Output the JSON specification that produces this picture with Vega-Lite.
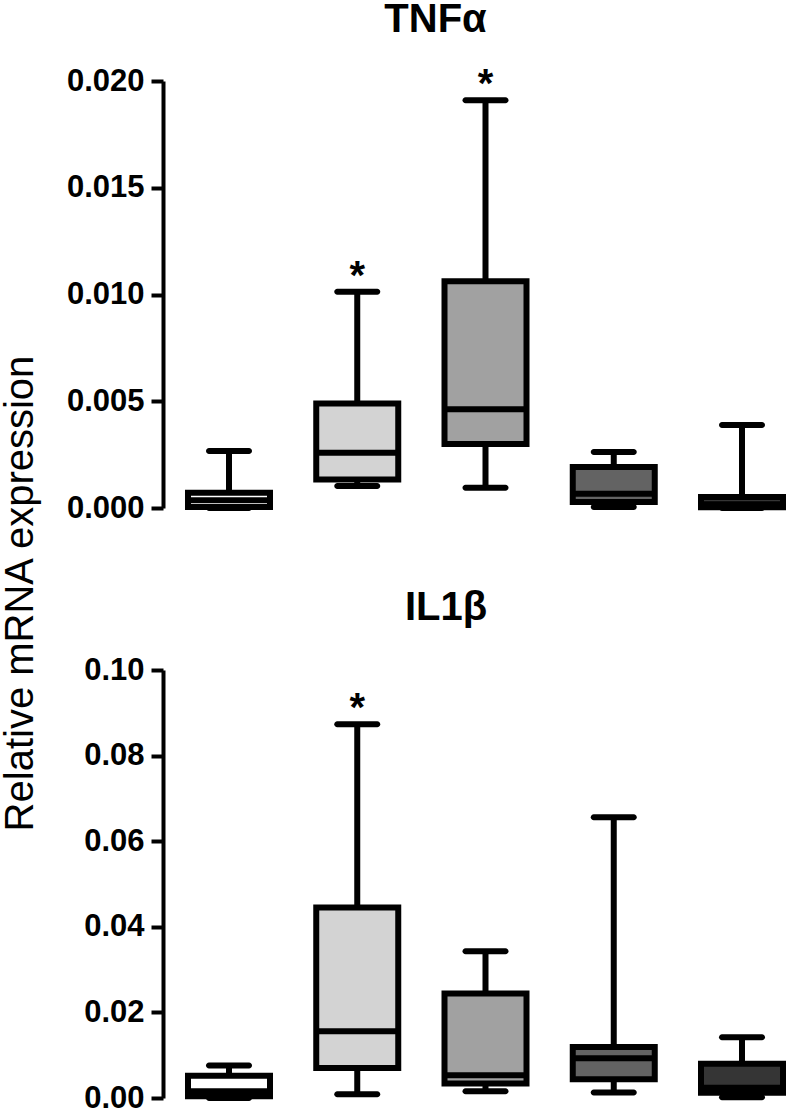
{
  "$schema": "https://vega.github.io/schema/vega-lite/v6.json",
  "background": "white",
  "padding": 0,
  "bounds": "flush",
  "spacing": 162,
  "config": {
    "view": {"stroke": null},
    "font": "Liberation Sans",
    "axis": {
      "domainColor": "black",
      "domainWidth": 4,
      "tickColor": "black",
      "tickWidth": 4,
      "tickSize": 12,
      "labelFont": "Liberation Sans",
      "labelFontSize": 31,
      "labelFontWeight": "bold",
      "labelColor": "black",
      "labelPadding": 7,
      "grid": false
    },
    "title": {"font": "Liberation Sans", "fontSize": 40, "fontWeight": "bold", "color": "black", "anchor": "middle"}
  },
  "datasets": {
    "tnf": [
      {"group": "A", "lower": 0.0, "q1": 0.00005, "median": 0.00036, "q3": 0.00072, "upper": 0.00267, "sig": ""},
      {"group": "B", "lower": 0.00103, "q1": 0.00133, "median": 0.00259, "q3": 0.0049, "upper": 0.01013, "sig": "*"},
      {"group": "C", "lower": 0.00095, "q1": 0.0030, "median": 0.00462, "q3": 0.01062, "upper": 0.0191, "sig": "*"},
      {"group": "D", "lower": 0.00005, "q1": 0.00028, "median": 0.00067, "q3": 0.00192, "upper": 0.00262, "sig": ""},
      {"group": "E", "lower": 0.0, "q1": 0.00003, "median": 0.00017, "q3": 0.00052, "upper": 0.00389, "sig": ""}
    ],
    "il1": [
      {"group": "A", "lower": 0.0, "q1": 0.0004, "median": 0.0016, "q3": 0.0052, "upper": 0.0076, "sig": ""},
      {"group": "B", "lower": 0.0009, "q1": 0.0070, "median": 0.0156, "q3": 0.0445, "upper": 0.0873, "sig": "*"},
      {"group": "C", "lower": 0.0016, "q1": 0.0034, "median": 0.0053, "q3": 0.0244, "upper": 0.0343, "sig": ""},
      {"group": "D", "lower": 0.0013, "q1": 0.0044, "median": 0.0093, "q3": 0.0119, "upper": 0.0656, "sig": ""},
      {"group": "E", "lower": 0.0002, "q1": 0.0012, "median": 0.0024, "q3": 0.0080, "upper": 0.0142, "sig": ""}
    ]
  },
  "vconcat": [
    {
      "width": 645,
      "height": 427,
      "data": {"name": "tnf"},
      "title": {"text": "TNFα", "dx": -50, "offset": -7, "baseline": "alphabetic"},
      "encoding": {
        "x": {"field": "group", "type": "nominal", "scale": {"type": "point", "padding": 0.5146}, "axis": null}
      },
      "layer": [
        {
          "mark": {"type": "rule", "color": "black", "strokeWidth": 6},
          "encoding": {
            "y": {"field": "lower", "type": "quantitative", "scale": {"domain": [0, 0.02], "nice": false},
              "axis": {"values": [0, 0.005, 0.01, 0.015, 0.02], "format": ".3f", "title": "Relative mRNA expression",
                "titleFont": "Liberation Sans", "titleFontSize": 40, "titleFontWeight": "normal", "titleColor": "black",
                "titleAngle": -90, "titleX": -131, "titleY": 512, "titleAlign": "center", "titleBaseline": "alphabetic"}},
            "y2": {"field": "upper"}
          }
        },
        {
          "mark": {"type": "bar", "width": 82, "stroke": "black", "strokeWidth": 6},
          "encoding": {
            "y": {"field": "q1", "type": "quantitative",
              "axis": {"values": [0, 0.005, 0.01, 0.015, 0.02], "format": ".3f", "title": "Relative mRNA expression",
                "titleFont": "Liberation Sans", "titleFontSize": 40, "titleFontWeight": "normal", "titleColor": "black",
                "titleAngle": -90, "titleX": -131, "titleY": 512, "titleAlign": "center", "titleBaseline": "alphabetic"}},
            "y2": {"field": "q3"},
            "fill": {"field": "group", "type": "nominal", "scale": {"domain": ["A", "B", "C", "D", "E"], "range": ["#ffffff", "#d3d3d3", "#a1a1a1", "#636363", "#353535"]}, "legend": null}
          }
        },
        {
          "mark": {"type": "tick", "color": "black", "size": 82, "thickness": 6, "opacity": 1},
          "encoding": {"y": {"field": "median", "type": "quantitative",
              "axis": {"values": [0, 0.005, 0.01, 0.015, 0.02], "format": ".3f", "title": "Relative mRNA expression",
                "titleFont": "Liberation Sans", "titleFontSize": 40, "titleFontWeight": "normal", "titleColor": "black",
                "titleAngle": -90, "titleX": -131, "titleY": 512, "titleAlign": "center", "titleBaseline": "alphabetic"}}}
        },
        {
          "mark": {"type": "tick", "color": "black", "size": 46, "thickness": 6, "cornerRadius": 3, "opacity": 1},
          "encoding": {"y": {"field": "upper", "type": "quantitative",
              "axis": {"values": [0, 0.005, 0.01, 0.015, 0.02], "format": ".3f", "title": "Relative mRNA expression",
                "titleFont": "Liberation Sans", "titleFontSize": 40, "titleFontWeight": "normal", "titleColor": "black",
                "titleAngle": -90, "titleX": -131, "titleY": 512, "titleAlign": "center", "titleBaseline": "alphabetic"}}}
        },
        {
          "mark": {"type": "tick", "color": "black", "size": 46, "thickness": 6, "cornerRadius": 3, "opacity": 1},
          "encoding": {"y": {"field": "lower", "type": "quantitative",
              "axis": {"values": [0, 0.005, 0.01, 0.015, 0.02], "format": ".3f", "title": "Relative mRNA expression",
                "titleFont": "Liberation Sans", "titleFontSize": 40, "titleFontWeight": "normal", "titleColor": "black",
                "titleAngle": -90, "titleX": -131, "titleY": 512, "titleAlign": "center", "titleBaseline": "alphabetic"}}}
        },
        {
          "mark": {"type": "text", "fontSize": 40, "fontWeight": "bold", "color": "black", "dy": -3, "baseline": "alphabetic", "font": "Liberation Sans"},
          "encoding": {"y": {"field": "upper", "type": "quantitative",
              "axis": {"values": [0, 0.005, 0.01, 0.015, 0.02], "format": ".3f", "title": "Relative mRNA expression",
                "titleFont": "Liberation Sans", "titleFontSize": 40, "titleFontWeight": "normal", "titleColor": "black",
                "titleAngle": -90, "titleX": -131, "titleY": 512, "titleAlign": "center", "titleBaseline": "alphabetic"}}, "text": {"field": "sig"}}
        }
      ]
    },
    {
      "width": 645,
      "height": 428,
      "data": {"name": "il1"},
      "title": {"text": "IL1β", "dx": -39.5, "offset": -6, "baseline": "alphabetic"},
      "encoding": {
        "x": {"field": "group", "type": "nominal", "scale": {"type": "point", "padding": 0.5146}, "axis": null}
      },
      "layer": [
        {
          "mark": {"type": "rule", "color": "black", "strokeWidth": 6},
          "encoding": {
            "y": {"field": "lower", "type": "quantitative", "scale": {"domain": [0, 0.1], "nice": false},
              "axis": {"values": [0, 0.02, 0.04, 0.06, 0.08, 0.1], "format": ".2f", "title": null}},
            "y2": {"field": "upper"}
          }
        },
        {
          "mark": {"type": "bar", "width": 82, "stroke": "black", "strokeWidth": 6},
          "encoding": {
            "y": {"field": "q1", "type": "quantitative", "axis": {"values": [0, 0.02, 0.04, 0.06, 0.08, 0.1], "format": ".2f", "title": null}},
            "y2": {"field": "q3"},
            "fill": {"field": "group", "type": "nominal", "scale": {"domain": ["A", "B", "C", "D", "E"], "range": ["#ffffff", "#d3d3d3", "#a1a1a1", "#636363", "#353535"]}, "legend": null}
          }
        },
        {
          "mark": {"type": "tick", "color": "black", "size": 82, "thickness": 6, "opacity": 1},
          "encoding": {"y": {"field": "median", "type": "quantitative", "axis": {"values": [0, 0.02, 0.04, 0.06, 0.08, 0.1], "format": ".2f", "title": null}}}
        },
        {
          "mark": {"type": "tick", "color": "black", "size": 46, "thickness": 6, "cornerRadius": 3, "opacity": 1},
          "encoding": {"y": {"field": "upper", "type": "quantitative", "axis": {"values": [0, 0.02, 0.04, 0.06, 0.08, 0.1], "format": ".2f", "title": null}}}
        },
        {
          "mark": {"type": "tick", "color": "black", "size": 46, "thickness": 6, "cornerRadius": 3, "opacity": 1},
          "encoding": {"y": {"field": "lower", "type": "quantitative", "axis": {"values": [0, 0.02, 0.04, 0.06, 0.08, 0.1], "format": ".2f", "title": null}}}
        },
        {
          "mark": {"type": "text", "fontSize": 40, "fontWeight": "bold", "color": "black", "dy": -3, "baseline": "alphabetic", "font": "Liberation Sans"},
          "encoding": {"y": {"field": "upper", "type": "quantitative", "axis": {"values": [0, 0.02, 0.04, 0.06, 0.08, 0.1], "format": ".2f", "title": null}}, "text": {"field": "sig"}}
        }
      ]
    }
  ]
}
